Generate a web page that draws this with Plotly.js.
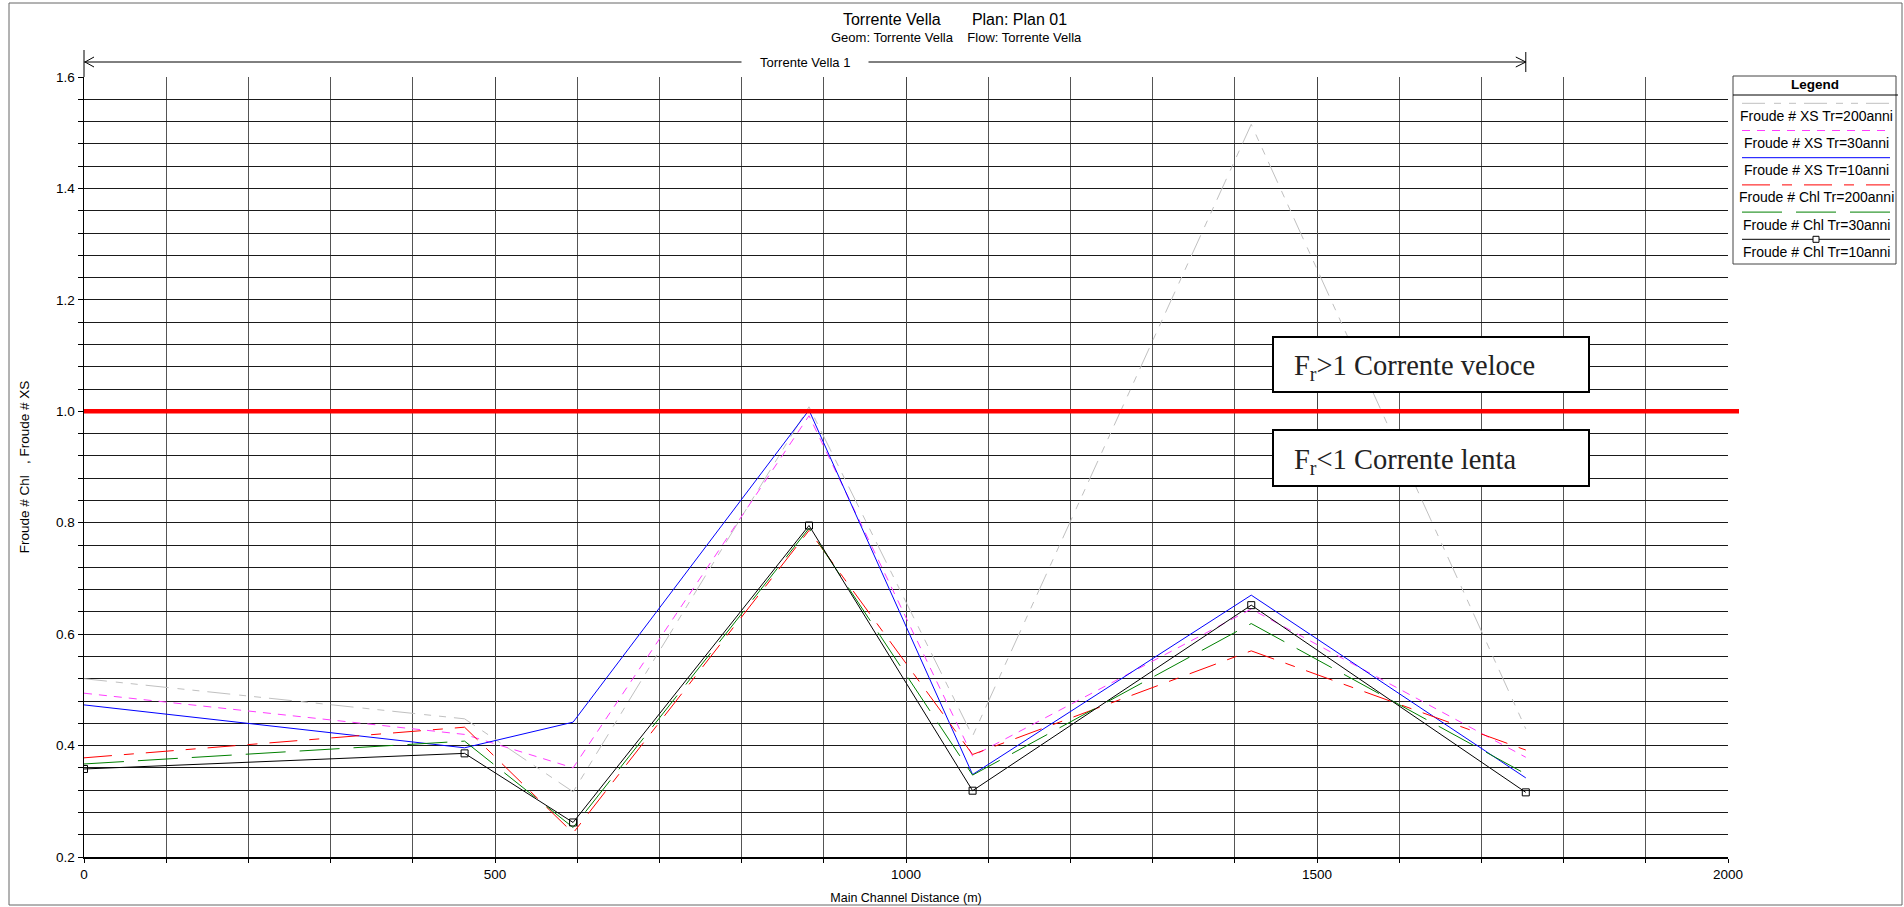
<!DOCTYPE html>
<html><head><meta charset="utf-8">
<script src="https://cdn.plot.ly/plotly-3.0.1.min.js"></script>
<style>html,body{margin:0;padding:0;background:#fff;overflow:hidden}#chart{width:1904px;height:907px}</style>
</head><body><div id="chart"></div>
<script>
// ---- data ----
const stations = [0, 463, 595, 882, 1081, 1420, 1754];
const xsTr200  = [0.520, 0.448, 0.317, 1.008, 0.417, 1.515, 0.430];
const xsTr30   = [0.494, 0.420, 0.360, 0.992, 0.381, 0.645, 0.379];
const xsTr10   = [0.473, 0.396, 0.442, 1.002, 0.348, 0.670, 0.342];
const chlTr200 = [0.378, 0.433, 0.243, 0.786, 0.384, 0.570, 0.392];
const chlTr30  = [0.367, 0.408, 0.253, 0.790, 0.347, 0.619, 0.349];
const chlTr10  = [0.358, 0.386, 0.262, 0.795, 0.319, 0.652, 0.316];
const seriesNames = ['Froude # XS Tr=200anni','Froude # XS Tr=30anni','Froude # XS Tr=10anni',
                     'Froude # Chl Tr=200anni','Froude # Chl Tr=30anni','Froude # Chl Tr=10anni'];
const seriesValues = [xsTr200, xsTr30, xsTr10, chlTr200, chlTr30, chlTr10];
const criticalFroude = 1.0;
const xTickVals = [0, 500, 1000, 1500, 2000];
const xTickText = ['0', '500', '1000', '1500', '2000'];
const yTickVals = [0.2, 0.4, 0.6, 0.8, 1.0, 1.2, 1.4, 1.6];
const yTickText = ['0.2', '0.4', '0.6', '0.8', '1.0', '1.2', '1.4', '1.6'];
const titleMain = 'Torrente Vella\u00a0\u00a0\u00a0\u00a0\u00a0\u00a0\u00a0Plan: Plan 01';
const titleSub = 'Geom: Torrente Vella\u00a0\u00a0\u00a0\u00a0Flow: Torrente Vella';
const reachName = 'Torrente Vella 1';
const boxTexts = ['F<sub>r</sub>&gt;1 Corrente veloce', 'F<sub>r</sub>&lt;1 Corrente lenta'];
const xTitle = 'Main Channel Distance (m)';
const yTitle = 'Froude # Chl\u00a0\u00a0\u00a0, Froude # XS';

// ---- styles ----
const styles = [
  {color:'#c0c0c0', dash:'23px,9px,7px,8px,7px,8px'},
  {color:'#ff3cff', dash:'8px,7px'},
  {color:'#0000ff', dash:'solid'},
  {color:'#ff0000', dash:'28px,12px,10px,12px'},
  {color:'#008000', dash:'40px,14px'},
  {color:'#000000', dash:'solid', marker:true}
];
const SANS = 'Liberation Sans, Arial, sans-serif';
const SERIF = 'Liberation Serif, Times New Roman, serif';

const W=1904, H=907, L=84, R=176, T=77, B=50;
const pw=W-L-R, ph=H-T-B;
const px = v => (v-L)/pw;
const py = v => (H-B-v)/ph;

const traces = seriesValues.map((vals,i)=>{
  const s = styles[i];
  const t = {x: stations, y: vals, name: seriesNames[i], type:'scatter',
    mode: s.marker ? 'lines+markers' : 'lines',
    line:{color:s.color, width:1, dash:s.dash}, hoverinfo:'x+y+name'};
  if (s.marker) t.marker = {symbol:'square-open', size:7, color:'#000', line:{width:1, color:'#000'}};
  return t;
});

const shapes = [];
const annotations = [];
// outer frame
shapes.push({type:'rect', xref:'paper', yref:'paper', x0:px(9), x1:px(1902), y0:py(905), y1:py(3), line:{color:'#666', width:1}});
// y axis extension above plot
shapes.push({type:'line', xref:'paper', yref:'paper', x0:0, x1:0, y0:1, y1:py(50), line:{color:'#000', width:1}});
// critical Froude line
shapes.push({type:'line', xref:'paper', yref:'y', x0:0, x1:px(1739), y0:criticalFroude, y1:criticalFroude, line:{color:'#ff0000', width:4.5}, layer:'above'});
// reach arrow
const xs0 = stations[0], xs1 = stations[stations.length-1];
const yArrow = py(62);
shapes.push({type:'line', xref:'x', yref:'paper', x0:xs0, x1:xs1, y0:yArrow, y1:yArrow, line:{color:'#000', width:1}});
shapes.push({type:'path', xref:'x', yref:'paper', xsizemode:'pixel', ysizemode:'pixel', xanchor:xs0, yanchor:yArrow,
  path:'M 10 5 L 1 0 L 10 -5', line:{color:'#000', width:1}});
shapes.push({type:'path', xref:'x', yref:'paper', xsizemode:'pixel', ysizemode:'pixel', xanchor:xs1, yanchor:yArrow,
  path:'M -10 5 L 0 0 L -10 -5 M 0 10 L 0 -10', line:{color:'#000', width:1}});
annotations.push({xref:'x', yref:'paper', x:(xs0+xs1)/2, y:yArrow, text:'\u00a0\u00a0\u00a0\u00a0\u00a0'+reachName+'\u00a0\u00a0\u00a0\u00a0\u00a0',
  showarrow:false, bgcolor:'#fff', borderpad:0, font:{family:SANS, size:13, color:'#000'}, xanchor:'center', yanchor:'middle'});
// subtitle
annotations.push({xref:'paper', yref:'paper', x:px(956), y:py(37.5), text:titleSub, showarrow:false,
  font:{family:SANS, size:13, color:'#000'}, xanchor:'center', yanchor:'middle'});
// text boxes
const boxes = [[1273,337,1589,392],[1273,430,1589,486]];
boxes.forEach((b,i)=>{
  shapes.push({type:'rect', xref:'paper', yref:'paper', x0:px(b[0]), x1:px(b[2]), y0:py(b[1]), y1:py(b[3]),
    fillcolor:'#fff', line:{color:'#000', width:2}, layer:'above'});
  annotations.push({xref:'paper', yref:'paper', x:px(b[0]+19), y:py((b[1]+b[3])/2+3), text:boxTexts[i], showarrow:false,
    xanchor:'left', yanchor:'middle', font:{family:SERIF, size:28.5, color:'#222'}});
});
// legend
const lgL=1733, lgR=1896, lgT=76, lgB=264;
shapes.push({type:'rect', xref:'paper', yref:'paper', x0:px(lgL), x1:px(lgR), y0:py(lgB), y1:py(lgT), fillcolor:'#fff', line:{color:'#444', width:1}, layer:'above'});
shapes.push({type:'line', xref:'paper', yref:'paper', x0:px(lgL), x1:px(1898), y0:py(95), y1:py(95), line:{color:'#000', width:1}, layer:'above'});
annotations.push({xref:'paper', yref:'paper', x:px(1815), y:py(85), text:'<b>Legend</b>', showarrow:false,
  xanchor:'center', yanchor:'middle', font:{family:SANS, size:13.5, color:'#000'}});
seriesNames.forEach((n,i)=>{
  const ly = 103.3 + 27.2*i, ty = 115.7 + 27.2*i;
  const s = styles[i];
  shapes.push({type:'line', xref:'paper', yref:'paper', x0:px(1742), x1:px(1890), y0:py(ly), y1:py(ly),
    line:{color:s.color, width:1, dash:s.dash}, layer:'above'});
  if (s.marker) shapes.push({type:'rect', xref:'paper', yref:'paper', x0:px(1813), x1:px(1819), y0:py(ly-3), y1:py(ly+3),
    fillcolor:'#fff', line:{color:'#000', width:1}, layer:'above'});
  annotations.push({xref:'paper', yref:'paper', x:px(1816), y:py(ty), text:n, showarrow:false,
    xanchor:'center', yanchor:'middle', font:{family:SANS, size:14, color:'#000'}});
});

const layout = {
  width:W, height:H, autosize:false,
  paper_bgcolor:'#fff', plot_bgcolor:'#fff',
  margin:{l:L, r:R, t:T, b:B, pad:0},
  showlegend:false,
  font:{family:SANS, size:13, color:'#000'},
  title:{text:titleMain, font:{family:SANS, size:16, color:'#000'}, xref:'container', x:955/W, yref:'container', y:1-19.5/H, xanchor:'center', yanchor:'middle'},
  xaxis:{range:[0,2000], tickmode:'array', tickvals:xTickVals, ticktext:xTickText,
    showgrid:true, gridcolor:'#444', gridwidth:1, zeroline:false,
    showline:true, linecolor:'#000', linewidth:2, ticks:'outside', ticklen:4, tickcolor:'#000',
    tickfont:{family:SANS, size:13.5, color:'#000'},
    minor:{dtick:100, tick0:0, showgrid:true, gridcolor:'#555', gridwidth:1, ticks:'outside', ticklen:4, tickcolor:'#000'},
    title:{text:xTitle, font:{family:SANS, size:12.5, color:'#000'}, standoff:12}, automargin:false, fixedrange:true},
  yaxis:{range:[0.2,1.6], tickmode:'array', tickvals:yTickVals, ticktext:yTickText,
    showgrid:true, gridcolor:'#1a1a1a', gridwidth:1, zeroline:false,
    showline:true, linecolor:'#000', linewidth:1.5, ticks:'outside', ticklen:5, tickcolor:'#000',
    tickfont:{family:SANS, size:13.5, color:'#000'},
    minor:{dtick:0.04, tick0:0.2, showgrid:true, gridcolor:'#1a1a1a', gridwidth:1, ticks:'outside', ticklen:5, tickcolor:'#000'},
    title:{text:yTitle, font:{family:SANS, size:13.5, color:'#000'}, standoff:23}, automargin:false, fixedrange:true},
  shapes:shapes, annotations:annotations
};
Plotly.newPlot('chart', traces, layout, {displayModeBar:false, staticPlot:true});
</script></body></html>
